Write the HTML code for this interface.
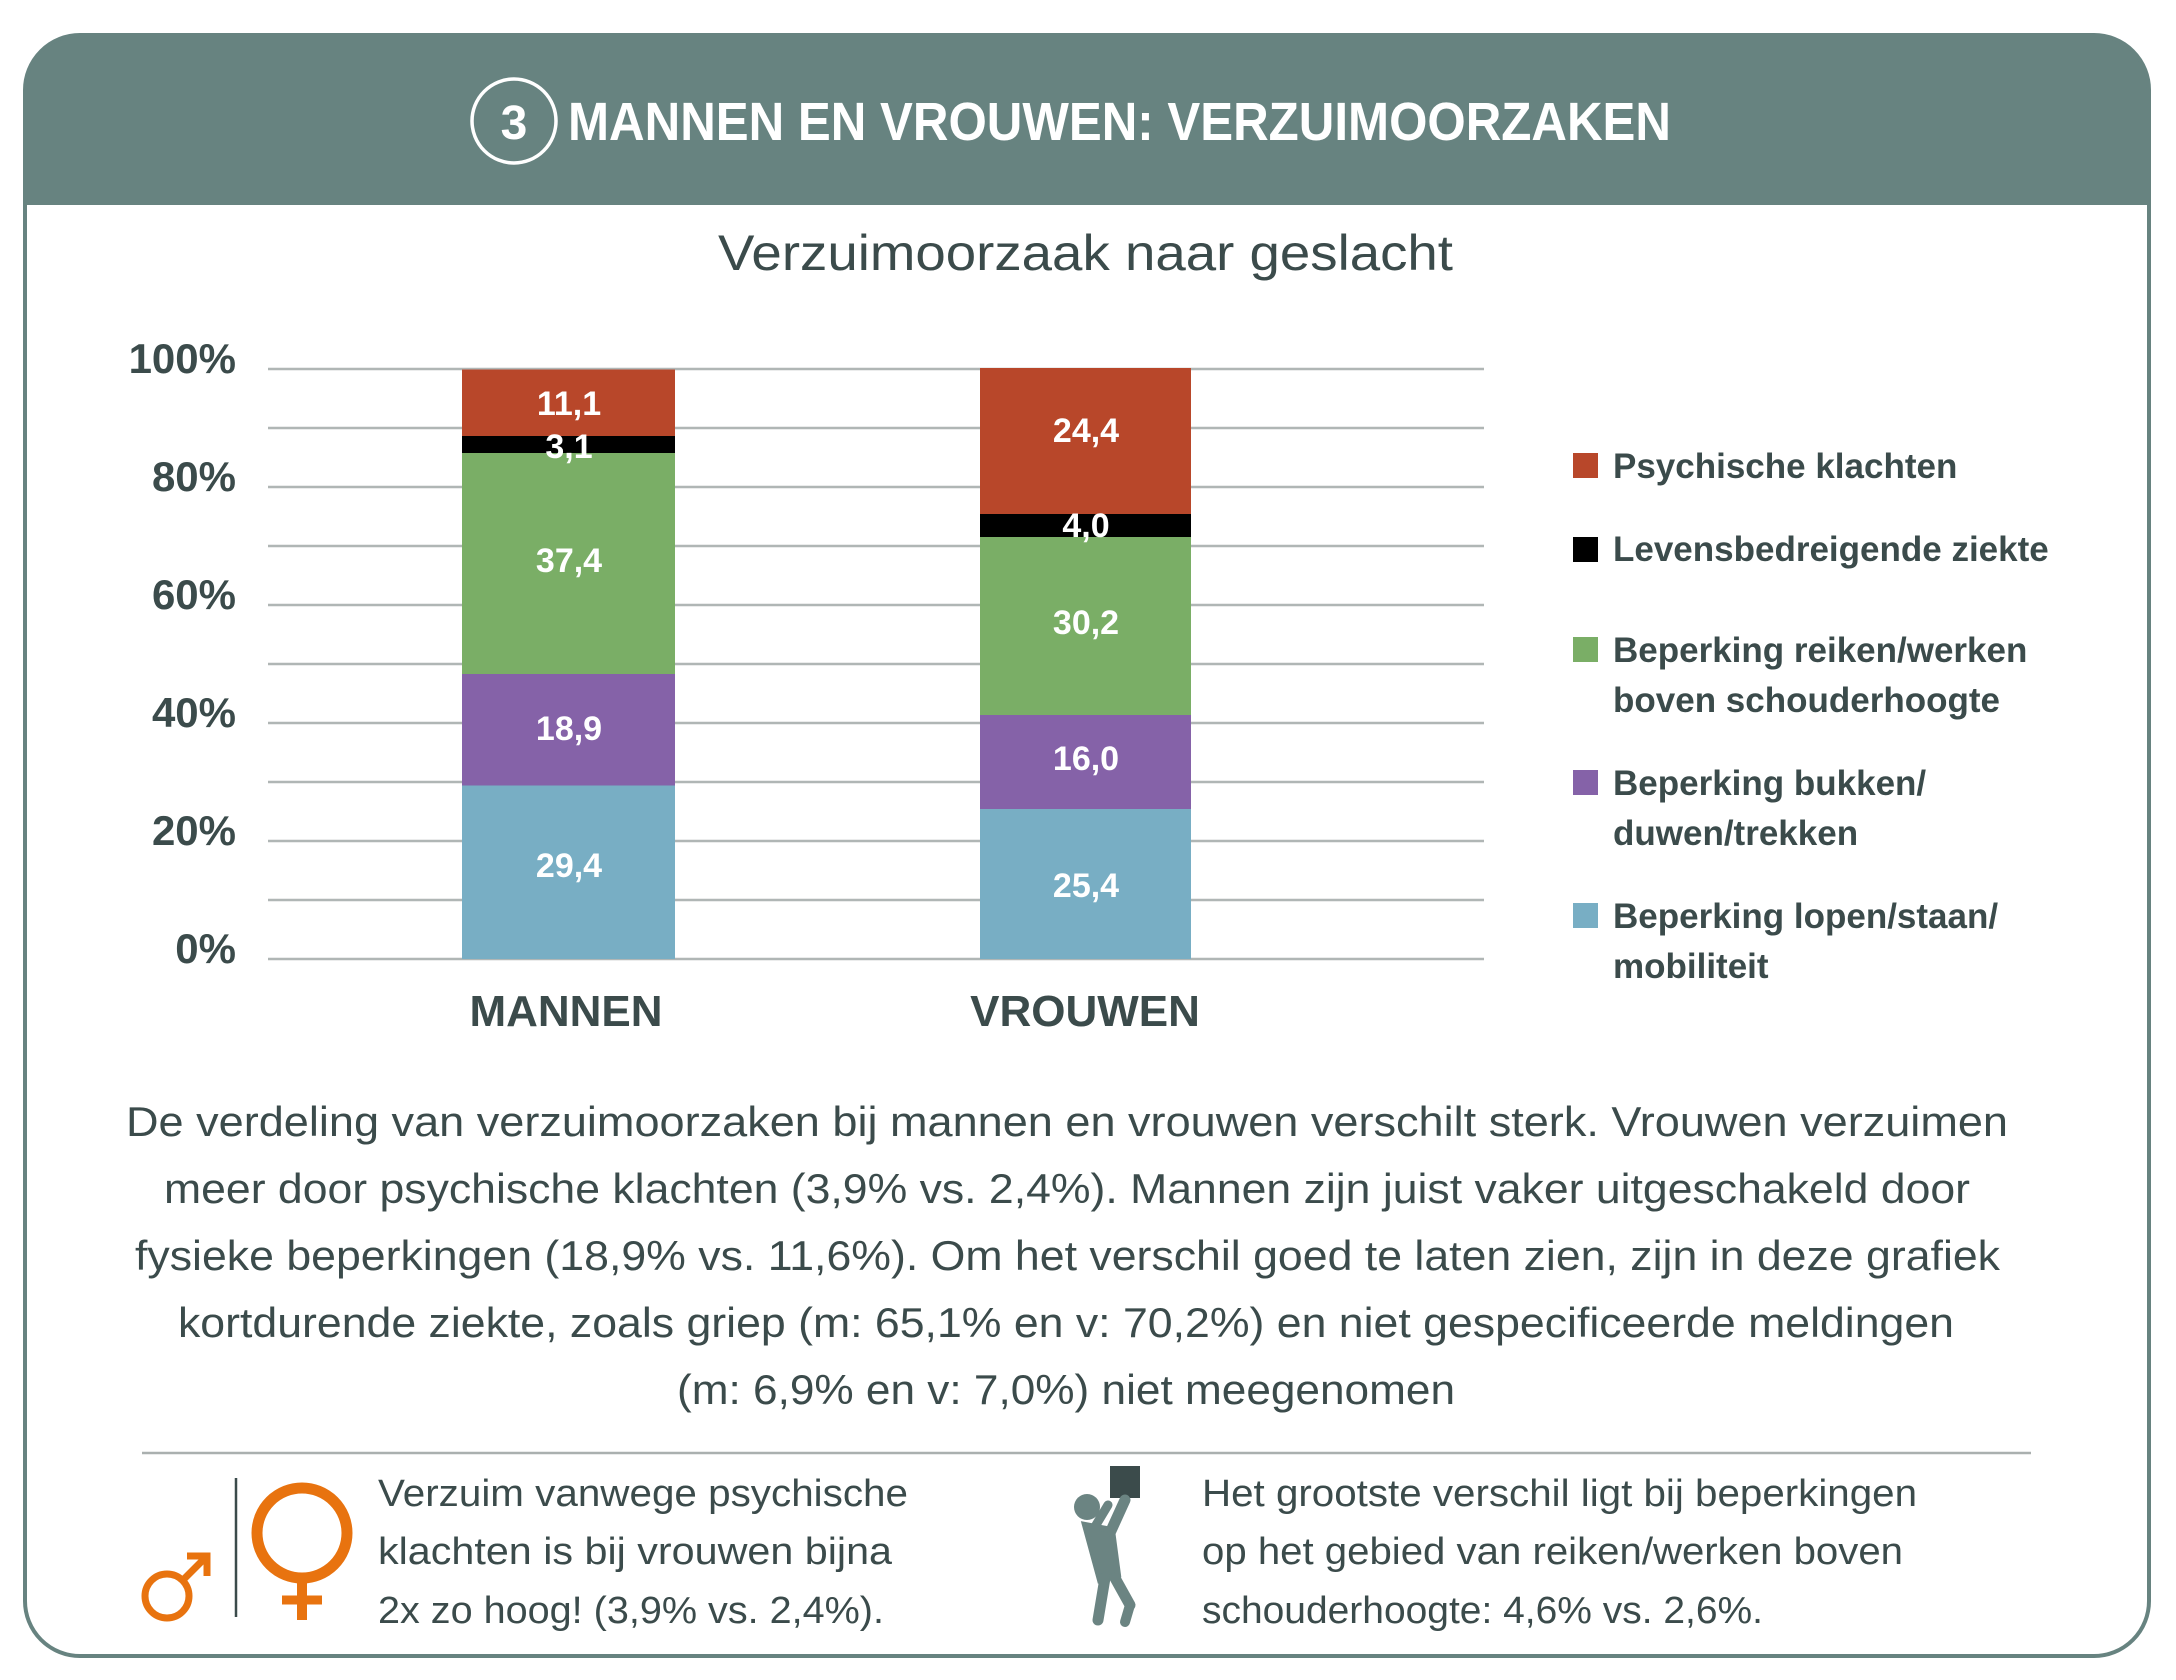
<!DOCTYPE html>
<html><head><meta charset="utf-8"><style>
html,body{margin:0;padding:0;background:#fff;}
svg{display:block;}
text{font-family:"Liberation Sans",sans-serif;}
</style></head><body>
<svg width="2176" height="1680" viewBox="0 0 2176 1680" xmlns="http://www.w3.org/2000/svg">
<defs><clipPath id="card"><rect x="25" y="35" width="2124" height="1621" rx="55"/></clipPath></defs>
<rect x="0" y="0" width="2176" height="1680" fill="#fff"/>
<g clip-path="url(#card)">
<rect x="25" y="35" width="2124" height="170" fill="#678380"/>
</g>
<rect x="25" y="35" width="2124" height="1621" rx="55" fill="none" stroke="#678380" stroke-width="4"/>
<circle cx="514" cy="121" r="42" fill="none" stroke="#fff" stroke-width="3.5"/>
<text x="514" y="139" text-anchor="middle" font-size="48" font-weight="bold" fill="#fff">3</text>
<text x="568" y="140" font-size="54" font-weight="bold" fill="#fff" textLength="1103" lengthAdjust="spacingAndGlyphs">MANNEN EN VROUWEN: VERZUIMOORZAKEN</text>
<text x="718" y="270" font-size="50" fill="#3b4b4b" textLength="735" lengthAdjust="spacingAndGlyphs">Verzuimoorzaak naar geslacht</text>

<!-- gridlines -->
<g stroke="#b0b6b5" stroke-width="2.5">
<line x1="268" x2="1484" y1="369" y2="369"/><line x1="268" x2="1484" y1="428" y2="428"/>
<line x1="268" x2="1484" y1="487" y2="487"/><line x1="268" x2="1484" y1="546" y2="546"/>
<line x1="268" x2="1484" y1="605" y2="605"/><line x1="268" x2="1484" y1="664" y2="664"/>
<line x1="268" x2="1484" y1="723" y2="723"/><line x1="268" x2="1484" y1="782" y2="782"/>
<line x1="268" x2="1484" y1="841" y2="841"/><line x1="268" x2="1484" y1="900" y2="900"/>
<line x1="268" x2="1484" y1="959" y2="959"/>
</g>
<g font-size="42" font-weight="bold" fill="#3b4b4b" text-anchor="end">
<text x="236" y="373">100%</text><text x="236" y="491">80%</text><text x="236" y="609">60%</text>
<text x="236" y="727">40%</text><text x="236" y="845">20%</text><text x="236" y="963">0%</text>
</g>
<!-- Mannen -->
<rect x="462" y="785.5" width="213" height="173.5" fill="#78aec4"/>
<rect x="462" y="674" width="213" height="111.5" fill="#8562a8"/>
<rect x="462" y="453" width="213" height="221" fill="#7aae66"/>
<rect x="462" y="436" width="213" height="17" fill="#000"/>
<rect x="462" y="369.5" width="213" height="66.5" fill="#b8472a"/>
<!-- Vrouwen -->
<rect x="980" y="809" width="211" height="150" fill="#78aec4"/>
<rect x="980" y="715" width="211" height="94" fill="#8562a8"/>
<rect x="980" y="537" width="211" height="178" fill="#7aae66"/>
<rect x="980" y="514" width="211" height="23" fill="#000"/>
<rect x="980" y="368" width="211" height="146" fill="#b8472a"/>
<g font-size="34" font-weight="bold" fill="#fff" text-anchor="middle">
<text x="569" y="415">11,1</text><text x="569" y="458">3,1</text><text x="569" y="572">37,4</text>
<text x="569" y="740">18,9</text><text x="569" y="877">29,4</text>
<text x="1086" y="442">24,4</text><text x="1086" y="537">4,0</text><text x="1086" y="634">30,2</text>
<text x="1086" y="770">16,0</text><text x="1086" y="897">25,4</text>
</g>
<g font-size="44" font-weight="bold" fill="#3b4b4b" text-anchor="middle">
<text x="566" y="1026">MANNEN</text><text x="1085" y="1026">VROUWEN</text>
</g>
<!-- legend -->
<rect x="1573" y="453" width="25" height="25" fill="#b8472a"/>
<rect x="1573" y="537" width="25" height="25" fill="#000"/>
<rect x="1573" y="637" width="25" height="25" fill="#7aae66"/>
<rect x="1573" y="770" width="25" height="25" fill="#8562a8"/>
<rect x="1573" y="903" width="25" height="25" fill="#78aec4"/>
<g font-size="35" font-weight="bold" fill="#3b4b4b">
<text x="1613" y="478">Psychische klachten</text>
<text x="1613" y="561">Levensbedreigende ziekte</text>
<text x="1613" y="662">Beperking reiken/werken</text>
<text x="1613" y="712">boven schouderhoogte</text>
<text x="1613" y="795">Beperking bukken/</text>
<text x="1613" y="845">duwen/trekken</text>
<text x="1613" y="928">Beperking lopen/staan/</text>
<text x="1613" y="978">mobiliteit</text>
</g>
<!-- paragraph -->
<g font-size="42" fill="#3b4b4b">
<text x="126" y="1136" textLength="1882" lengthAdjust="spacingAndGlyphs">De verdeling van verzuimoorzaken bij mannen en vrouwen verschilt sterk. Vrouwen verzuimen</text>
<text x="164" y="1203" textLength="1806" lengthAdjust="spacingAndGlyphs">meer door psychische klachten (3,9% vs. 2,4%). Mannen zijn juist vaker uitgeschakeld door</text>
<text x="135" y="1270" textLength="1865" lengthAdjust="spacingAndGlyphs">fysieke beperkingen (18,9% vs. 11,6%). Om het verschil goed te laten zien, zijn in deze grafiek</text>
<text x="178" y="1337" textLength="1776" lengthAdjust="spacingAndGlyphs">kortdurende ziekte, zoals griep (m: 65,1% en v: 70,2%) en niet gespecificeerde meldingen</text>
<text x="677" y="1404" textLength="778" lengthAdjust="spacingAndGlyphs">(m: 6,9% en v: 7,0%) niet meegenomen</text>
</g>
<line x1="142" x2="2031" y1="1453" y2="1453" stroke="#aab0af" stroke-width="2.5"/>
<!-- icons -->
<g stroke="#e8730f" stroke-width="7" fill="none">
<circle cx="167" cy="1596" r="22"/>
<line x1="183" y1="1580" x2="205" y2="1558"/>
<polyline points="187,1556 207,1556 207,1576"/>
<circle cx="302" cy="1533" r="45" stroke-width="11"/>
<line x1="302" y1="1578" x2="302" y2="1620" stroke-width="10"/>
<line x1="282" y1="1600" x2="322" y2="1600" stroke-width="9"/>
</g>
<line x1="236" y1="1478" x2="236" y2="1617" stroke="#3b4b4b" stroke-width="2.5"/>
<g font-size="38" fill="#3b4b4b">
<text x="378" y="1506" textLength="530" lengthAdjust="spacingAndGlyphs">Verzuim vanwege psychische</text>
<text x="378" y="1564" textLength="514" lengthAdjust="spacingAndGlyphs">klachten is bij vrouwen bijna</text>
<text x="378" y="1623" textLength="506" lengthAdjust="spacingAndGlyphs">2x zo hoog! (3,9% vs. 2,4%).</text>
<text x="1202" y="1506" textLength="715" lengthAdjust="spacingAndGlyphs">Het grootste verschil ligt bij beperkingen</text>
<text x="1202" y="1564" textLength="701" lengthAdjust="spacingAndGlyphs">op het gebied van reiken/werken boven</text>
<text x="1202" y="1623" textLength="561" lengthAdjust="spacingAndGlyphs">schouderhoogte: 4,6% vs. 2,6%.</text>
</g>
<!-- person lifting box -->
<rect x="1110" y="1466" width="30" height="32" fill="#3b4b4b"/>
<g fill="#6b8482" stroke="#6b8482" stroke-linecap="round">
<circle cx="1087" cy="1507" r="13" stroke="none"/>
<line x1="1100" y1="1555" x2="1125" y2="1500" stroke-width="11"/>
<line x1="1093" y1="1530" x2="1108" y2="1505" stroke-width="9"/>
<path d="M1085,1525 L1112,1530 L1118,1575 L1100,1580 Z" stroke-width="6"/>
<line x1="1105" y1="1578" x2="1098" y2="1620" stroke-width="11"/>
<line x1="1115" y1="1578" x2="1130" y2="1605" stroke-width="11"/>
<line x1="1130" y1="1605" x2="1125" y2="1622" stroke-width="10"/>
</g>
</svg>
</body></html>
